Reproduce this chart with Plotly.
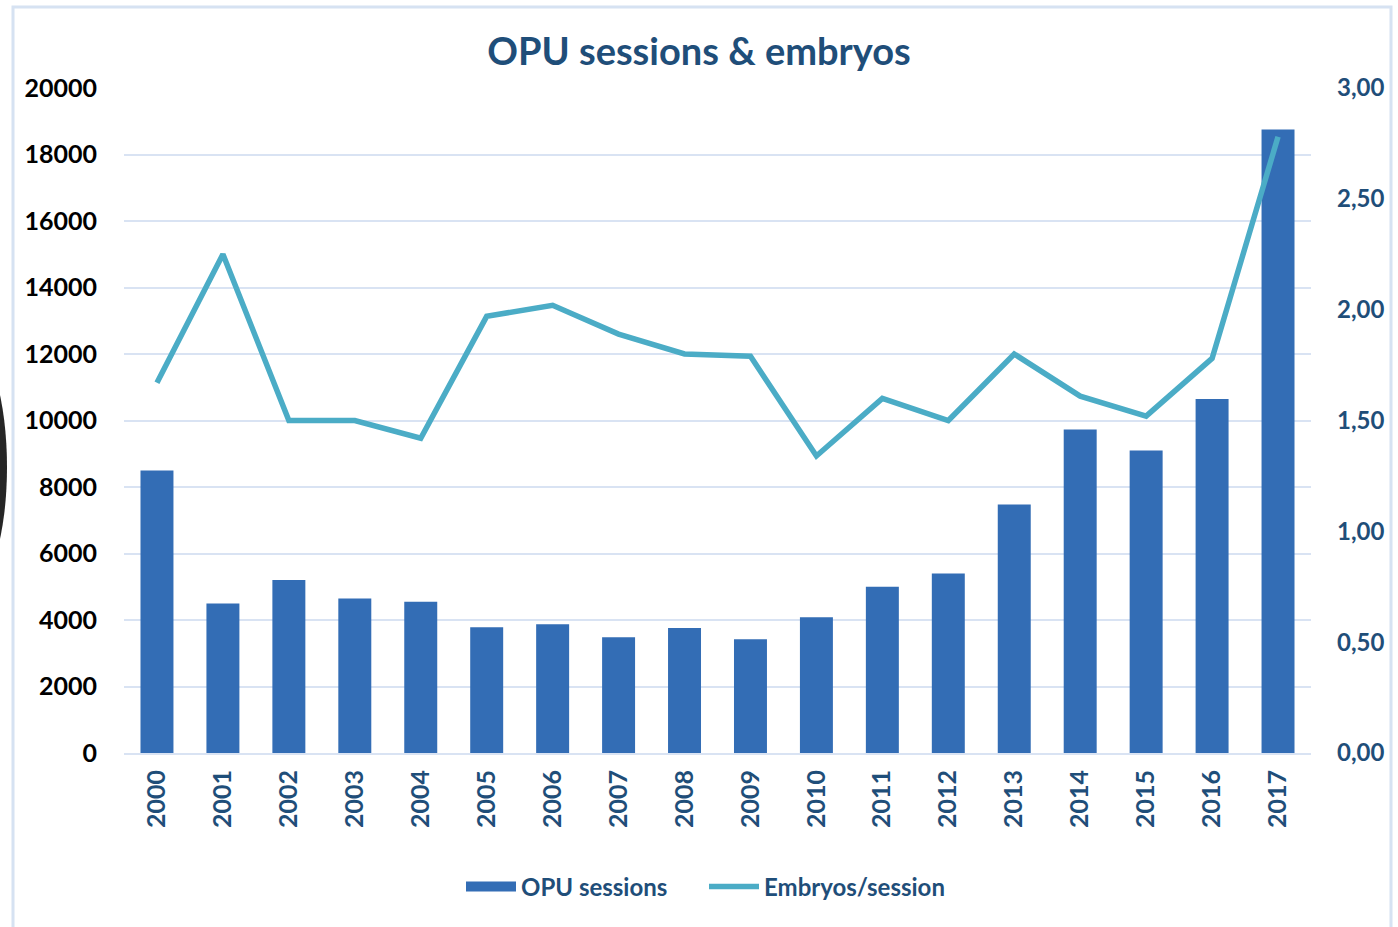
import plotly.graph_objects as go

years = [str(y) for y in range(2000, 2018)]
opu_sessions = [8500, 4500, 5200, 4650, 4550, 3780, 3870, 3480, 3760, 3420,
                4080, 5000, 5400, 7470, 9730, 9100, 10650, 18750]
embryos_per_session = [1.67, 2.25, 1.50, 1.50, 1.42, 1.97, 2.02, 1.89, 1.80, 1.79,
                       1.34, 1.60, 1.50, 1.80, 1.61, 1.52, 1.78, 2.78]
left_ticks = list(range(0, 20001, 2000))
right_ticks = [0, 0.5, 1.0, 1.5, 2.0, 2.5, 3.0]

NAVY = "#1f4e79"
GRID = "#d9e3f3"
BAR = "#336db5"
FONT = "Lato"

fig = go.Figure()
fig.add_trace(go.Bar(
    x=years, y=opu_sessions, name="OPU sessions",
    marker=dict(color=BAR, line=dict(width=0)),
    yaxis="y", showlegend=False,
))
# legend-only entry giving the wide rectangular bar swatch
fig.add_trace(go.Scatter(
    x=[None], y=[None], name="OPU sessions", mode="lines",
    line=dict(color=BAR, width=16), yaxis="y", hoverinfo="skip",
))
fig.add_trace(go.Scatter(
    x=years, y=embryos_per_session, name="Embryos/session",
    mode="lines", line=dict(color="#4bacc6", width=5.5),
    yaxis="y2",
))

W, H = 1398, 927
ml, mr, mt, mb = 124, 87, 88, 174

fig.update_layout(
    width=W, height=H,
    margin=dict(l=ml, r=mr, t=mt, b=mb, autoexpand=False),
    paper_bgcolor="white", plot_bgcolor="white",
    separators=",.",
    bargap=0.5,
    title=dict(text="<b>OPU sessions &amp; embryos</b>", x=0.5, xref="container",
               xanchor="center", y=1 - 52 / H, yanchor="middle",
               font=dict(family=FONT, size=38, color=NAVY)),
    xaxis=dict(
        type="category", tickangle=-90,
        tickfont=dict(family=FONT, size=25, color=NAVY, weight="bold"),
        showgrid=False, showline=True, linecolor=GRID, linewidth=2,
        ticks="", ticklabelstandoff=5,
    ),
    yaxis=dict(
        range=[0, 20000], tickvals=left_ticks, tickformat="d",
        tickfont=dict(family=FONT, size=25, color="black", weight="bold"),
        showgrid=True, gridcolor=GRID, gridwidth=2,
        zeroline=False, showline=False, ticks="", ticklabelstandoff=26,
    ),
    yaxis2=dict(
        range=[0, 3], tickvals=right_ticks, tickformat=".2f",
        overlaying="y", side="right", showgrid=False, zeroline=False,
        tickfont=dict(family=FONT, size=24, color=NAVY, weight="bold"),
        ticks="", ticklabelstandoff=25,
    ),
    legend=dict(
        orientation="h", x=(704 - ml) / (W - ml - mr), xanchor="center",
        y=-(887 - 753) / (H - mt - mb),
        yanchor="middle", font=dict(family=FONT, size=24, color=NAVY, weight="bold"),
        itemwidth=50, entrywidth=178, entrywidthmode="pixels",
    ),
    shapes=[
        # outer light-blue frame
        dict(type="rect", xref="paper", yref="paper", xsizemode="pixel", ysizemode="pixel",
             xanchor=0, yanchor=1,
             x0=13 - ml, x1=1391 - ml, y0=mt - 7, y1=mt - 960,
             line=dict(color="#d6e2f2", width=3), fillcolor="rgba(0,0,0,0)", layer="below"),
        # dark object at left edge
        dict(type="circle", xref="paper", yref="paper", xsizemode="pixel", ysizemode="pixel",
             xanchor=0, yanchor=1,
             x0=-30 - 37 - ml, x1=-30 + 37 - ml, y0=mt - (467 - 123), y1=mt - (467 + 123),
             line=dict(width=0), fillcolor="#262626", layer="above"),
    ],
)

fig.write_html("out.html", config={"displayModeBar": False},
               post_script="document.body.style.margin='0px';document.body.style.overflow='hidden';")
